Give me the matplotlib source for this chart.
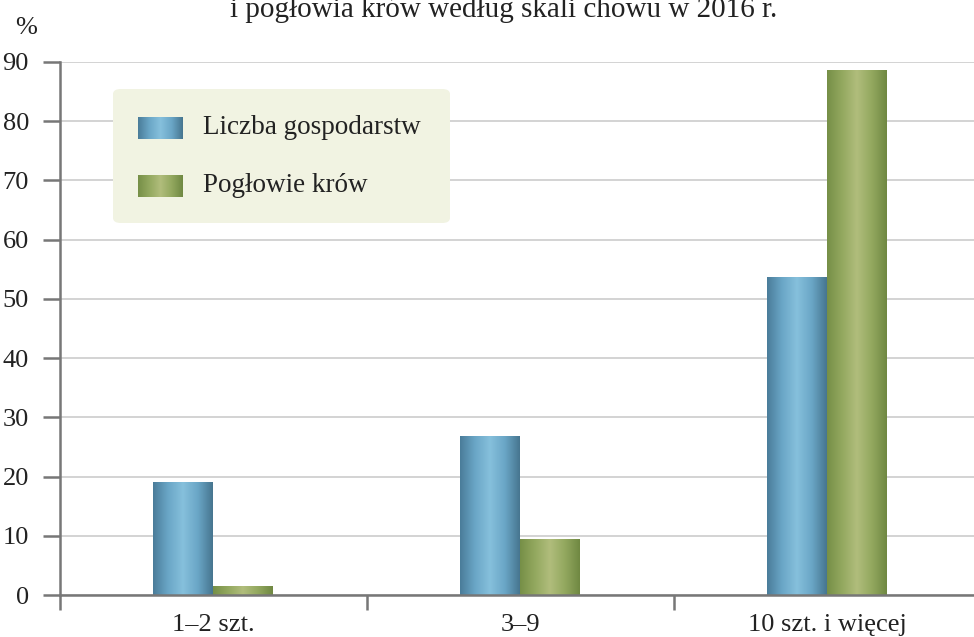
import numpy as np
import matplotlib
matplotlib.use("Agg")
import matplotlib.pyplot as plt
from matplotlib.colors import LinearSegmentedColormap
from matplotlib.patches import FancyBboxPatch

categories = ["1–2 szt.", "3–9", "10 szt. i więcej"]
liczba_gospodarstw = [19.0, 26.9, 53.7]
poglowie_krow = [1.5, 9.5, 88.7]
series_names = ["Liczba gospodarstw", "Pogłowie krów"]
y_ticks = [0, 10, 20, 30, 40, 50, 60, 70, 80, 90]
title = "i pogłowia krów według skali chowu w 2016 r."

plt.rcParams['font.family'] = ['Liberation Serif', 'DejaVu Serif']

W, H = 974, 637
fig = plt.figure(figsize=(W / 100, H / 100), dpi=100)
ax_left, ax_right = 59.5, 980.5
ax_bottom, ax_top = 595, 62
ax = fig.add_axes([ax_left / W, (H - ax_bottom) / H, (ax_right - ax_left) / W, (ax_bottom - ax_top) / H])

x = np.arange(len(categories))
bw = 0.195
blue_cmap = LinearSegmentedColormap.from_list("b", ["#4a7c99", "#6aa6c6", "#86c0dc", "#6aa6c6", "#46758f"])
green_cmap = LinearSegmentedColormap.from_list("g", ["#768f47", "#93a85f", "#b1bd7c", "#93a85f", "#6f8842"])

bars1 = ax.bar(x - bw / 2, liczba_gospodarstw, bw, color="#6aa6c6", zorder=2, linewidth=0)
bars2 = ax.bar(x + bw / 2, poglowie_krow, bw, color="#93a85f", zorder=2, linewidth=0)

grad = np.linspace(0, 1, 256).reshape(1, -1)
for bars, cmap in ((bars1, blue_cmap), (bars2, green_cmap)):
    for b in bars:
        x0, y0 = b.get_x(), b.get_y()
        w, h = b.get_width(), b.get_height()
        im = ax.imshow(grad, cmap=cmap, extent=[x0, x0 + w, y0, y0 + h], aspect='auto', zorder=2.5, interpolation='bilinear')
        im.set_clip_path(b)

ax.set_xlim(-0.5, 2.5)
ax.set_ylim(0, 90)
ax.set_yticks(y_ticks)
ax.set_yticklabels([str(v) for v in y_ticks], fontsize=19, color="#222222")
ax.grid(axis='y', color="#cccccc", linewidth=1.2, zorder=0)
ax.set_axisbelow(True)

ax.set_xticks([-0.5, 0.5, 1.5])
ax.set_xticklabels([])
ax.tick_params(axis='x', length=11, width=1.8, color="#777777", direction='out')
ax.tick_params(axis='y', length=12, width=1.8, color="#777777", direction='out', pad=10)
for i, c in enumerate(categories):
    ax.text(i, -(631 - 595) / (ax_bottom - ax_top), c, transform=ax.get_xaxis_transform(),
            ha='center', va='baseline', fontsize=19, color="#222222")

for s in ['top', 'right']:
    ax.spines[s].set_visible(False)
for s in ['left', 'bottom']:
    ax.spines[s].set_color("#777777")
    ax.spines[s].set_linewidth(1.8)
ax.spines['left'].set_zorder(3)
ax.spines['bottom'].set_zorder(3)

# legend box
lx0, ly0, lx1, ly1 = 113, 89, 450, 223
box = FancyBboxPatch((lx0 / W, 1 - ly1 / H), (lx1 - lx0) / W, (ly1 - ly0) / H,
                     boxstyle="round,pad=0,rounding_size=0.008", transform=fig.transFigure,
                     facecolor="#f1f3e2", edgecolor="none", zorder=5)
fig.patches.append(box)
for j, (name, cmap) in enumerate(((series_names[0], blue_cmap), (series_names[1], green_cmap))):
    cy = [128, 186][j]
    pax = fig.add_axes([138 / W, 1 - (cy + 11.5) / H, 45 / W, 23 / H], zorder=6)
    pax.imshow(grad, cmap=cmap, aspect='auto', interpolation='bilinear')
    pax.axis('off')
    fig.text(203 / W, 1 - cy / H, name, ha='left', va='center', fontsize=19.5, color="#222222", zorder=7)

fig.text(15 / W, 1 - 28 / H, "%", ha='left', va='center', fontsize=19, color="#222222")
fig.text(504 / W, 1 - 17 / H, title, ha='center', va='baseline', fontsize=21, color="#222222")

fig.savefig("out.png", dpi=100)
